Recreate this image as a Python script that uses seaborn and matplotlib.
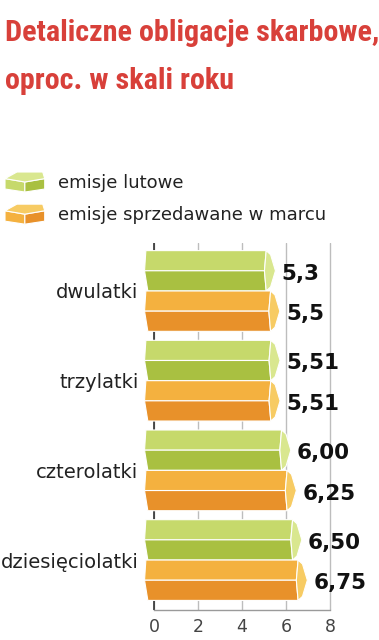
import matplotlib
matplotlib.use("Agg")
import matplotlib.pyplot as plt
import seaborn as sns
import pandas as pd
from matplotlib.patches import Polygon, Patch
from matplotlib.legend_handler import HandlerBase
from matplotlib import font_manager

# ---------------- data ----------------
categories = ["dwulatki", "trzylatki", "czterolatki", "dziesięciolatki"]
series = ["emisje lutowe", "emisje sprzedawane w marcu"]
lutowe = [5.3, 5.51, 6.00, 6.50]
marzec = [5.5, 5.51, 6.25, 6.75]
labels_lutowe = ["5,3", "5,51", "6,00", "6,50"]
labels_marzec = ["5,5", "5,51", "6,25", "6,75"]
xticks = [0, 2, 4, 6, 8]
title_lines = ["Detaliczne obligacje skarbowe,", "oproc. w skali roku"]

# ---------------- style ----------------
GREEN = {"top": "#c6d96b", "bot": "#a9c041", "cap": "#d9e78f"}
ORANGE = {"top": "#f4b13f", "bot": "#e8912a", "cap": "#f7cb63"}
RED = "#d8403a"

sns.set_theme(style="white")
plt.rcParams["font.family"] = ["DejaVu Sans"]

df = pd.DataFrame({
    "kategoria": categories * 2,
    "emisja": [series[0]] * len(categories) + [series[1]] * len(categories),
    "wartosc": lutowe + marzec,
})

W, H = 379, 640
fig = plt.figure(figsize=(W / 100, H / 100), dpi=100)
fig.patch.set_facecolor("white")
ax = fig.add_axes([140 / W, 1 - 610 / H, 200 / W, (610 - 243) / H])

sns.barplot(data=df, x="wartosc", y="kategoria", hue="emisja", orient="h",
            order=categories, hue_order=series,
            palette=[GREEN["bot"], ORANGE["bot"]], width=0.9,
            errorbar=None, legend=False, ax=ax)

ax.set_xlim((140 - 154) / 22, (340 - 154) / 22)
ax.set_ylim(3.557, -0.535)

# 3D-looking bars built from the seaborn bar geometry
styles = [GREEN, ORANGE]
label_sets = [labels_lutowe, labels_marzec]
XL = -0.4  # left start of prism (style offset)
for ci, cont in enumerate(ax.containers):
    st = styles[ci]
    for bi, p in enumerate(cont.patches):
        v = p.get_width()
        yt = p.get_y()
        h = p.get_height()
        yb = yt + h
        ym = yt + h / 2
        xf = v - 0.2
        top = Polygon([(XL + 0.03, yt), (xf, yt), (xf - 0.08, ym), (XL - 0.03, ym)],
                      closed=True, fc=st["top"], ec="white", lw=0.8, zorder=3)
        bot = Polygon([(XL - 0.03, ym), (xf - 0.08, ym), (xf, yb), (XL + 0.12, yb)],
                      closed=True, fc=st["bot"], ec="white", lw=0.8, zorder=3)
        cap = Polygon([(xf, yt), (xf + 0.2, yt + 0.1 * h), (xf + 0.42, ym),
                       (xf + 0.2, yb - 0.1 * h), (xf, yb), (xf - 0.08, ym)],
                      closed=True, fc=st["cap"], ec="white", lw=0.8, zorder=3)
        for poly in (top, bot, cap):
            ax.add_patch(poly)
        p.set_visible(False)
        ax.text(v + 0.5, ym + 0.1, label_sets[ci][bi], ha="left", va="baseline",
                fontsize=15.5, fontweight="bold", color="#111111", clip_on=False,
                zorder=5)

# grid / axes
ax.set_xticks(xticks)
ax.set_xticklabels([str(t) for t in xticks])
ax.grid(axis="x", color="#bdbdbd", lw=1)
ax.grid(axis="y", visible=False)
ax.set_axisbelow(True)
ax.axvline(0, color="#222222", lw=1.1, zorder=1.5)
for s in ["top", "right", "left"]:
    ax.spines[s].set_visible(False)
ax.spines["bottom"].set_bounds(0, 8)
ax.spines["bottom"].set_color("#9a9a9a")
ax.spines["bottom"].set_linewidth(1)
ax.tick_params(axis="x", length=0, pad=6, labelsize=12.5, labelcolor="#444444")
ax.tick_params(axis="y", length=0, pad=1, labelsize=14, labelcolor="#222222")
ax.set_xlabel("")
ax.set_ylabel("")
ax.set_facecolor("white")


# legend with cube icons
class CubeHandler(HandlerBase):
    def __init__(self, colors):
        super().__init__()
        self.colors = colors

    def create_artists(self, legend, orig_handle, xdescent, ydescent,
                       width, height, fontsize, trans):
        x0, y0 = -xdescent, -ydescent

        def P(u, w):
            return (x0 + u * width, y0 + w * height)

        c = self.colors
        topf = Polygon([P(0, .67), P(.3, 1.0), P(.95, 1.0), P(1, .67), P(.5, .5)],
                       closed=True, fc=c["cap"], ec="white", lw=0.8)
        left = Polygon([P(0, .67), P(.5, .5), P(.5, 0), P(0, .15)],
                       closed=True, fc=c["top"], ec="white", lw=0.8)
        right = Polygon([P(.5, .5), P(1, .67), P(1, .15), P(.5, 0)],
                        closed=True, fc=c["bot"], ec="white", lw=0.8)
        arts = [left, right, topf]
        for a in arts:
            a.set_transform(trans)
        return arts


h1, h2 = Patch(), Patch()
fig.legend([h1, h2], series, loc="upper left", bbox_to_anchor=(5 / W, 1 - 172 / H),
           frameon=False, fontsize=13, handlelength=2.2, handleheight=1.33,
           handletextpad=0.75, labelspacing=0.67, borderpad=0, borderaxespad=0,
           labelcolor="#222222",
           handler_map={h1: CubeHandler(GREEN), h2: CubeHandler(ORANGE)})

# title
available = {f.name for f in font_manager.fontManager.ttflist}
title_font = "Liberation Sans"
for cand in ["Liberation Sans Narrow", "DejaVu Sans Condensed", "Roboto Condensed"]:
    if cand in available:
        title_font = cand
        break
t1 = fig.text(5 / W, 1 - 41 / H, title_lines[0], fontsize=22, fontweight="bold",
              family=[title_font, "DejaVu Sans"], color=RED, va="baseline", ha="left")
t2 = fig.text(5 / W, 1 - 89 / H, title_lines[1], fontsize=22, fontweight="bold",
              family=[title_font, "DejaVu Sans"], color=RED, va="baseline", ha="left")
fig.canvas.draw()
wpx = t1.get_window_extent().width
size = 22 * 374 / wpx
t1.set_fontsize(size)
t2.set_fontsize(size)

fig.savefig("out.png", dpi=100, facecolor="white")
